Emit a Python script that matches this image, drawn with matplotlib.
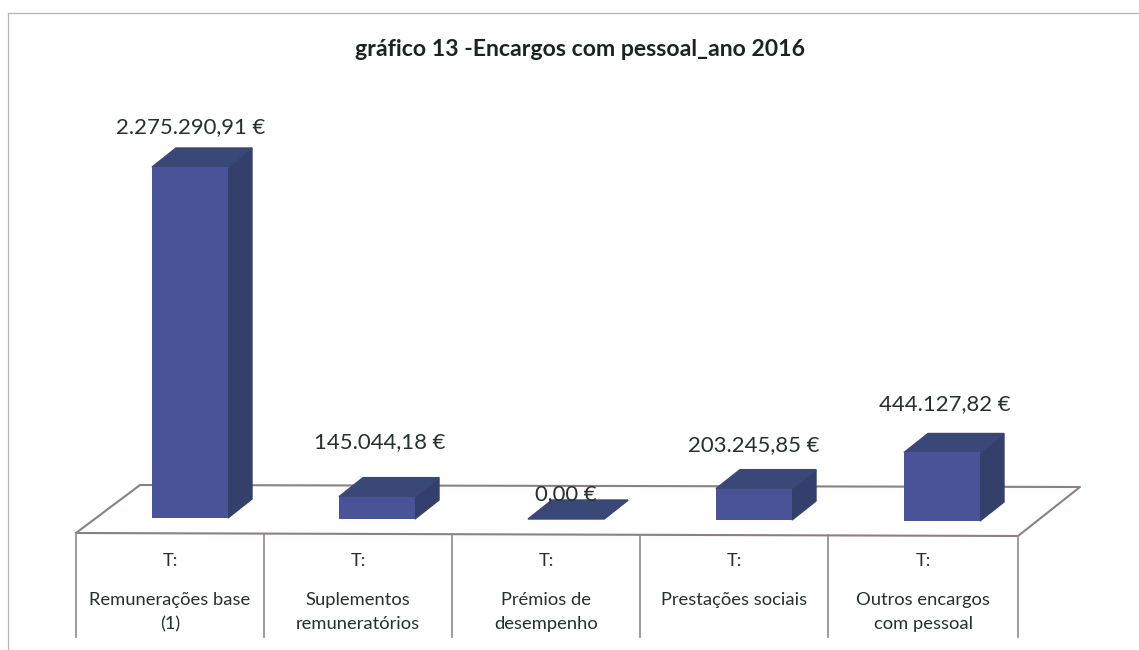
import matplotlib
matplotlib.use("Agg")
import matplotlib.pyplot as plt
from matplotlib.patches import Polygon

categories = ["Remunerações base\n(1)", "Suplementos\nremuneratórios", "Prémios de\ndesempenho",
              "Prestações sociais", "Outros encargos\ncom pessoal"]
values = [2275290.91, 145044.18, 0.00, 203245.85, 444127.82]
value_labels = ["2.275.290,91 €", "145.044,18 €", "0,00 €", "203.245,85 €", "444.127,82 €"]
title = "gráfico 13 -Encargos com pessoal_ano 2016"

# layout, in pixels of the 1139x650 picture
bar_left = [152, 339, 528, 716, 904]
bar_base = [518, 519, 519, 520, 521]
bar_w = 76
depth_x, depth_y = 24, 19
px_per_euro = 351 / 2275290.91
label_x = [191, 380, 566, 754, 945]
label_y = [127, 442, 494, 445, 404]
cell_x = [76, 264, 452, 640, 828, 1018]

front_c = "#4a5298"
top_c = "#3a4878"
side_c = "#343f6c"
floor_c = "#8c8082"
text_c = "#26302e"

plt.rcParams["font.family"] = ["Lato", "DejaVu Sans"]
fig = plt.figure(figsize=(11.39, 6.5), dpi=100)
ax = fig.add_axes([0, 0, 1, 1])
ax.set_xlim(0, 1139)
ax.set_ylim(650, 0)
ax.axis("off")

# outer frame of the chart
ax.plot([8, 8, 1139], [650, 13, 13], color="#b4b4b4", lw=0.9)

# floor and table
ax.plot([76, 140, 1080, 1018, 76], [533, 485, 487, 536, 533], color=floor_c, lw=1.5, zorder=1)
for i, x in enumerate(cell_x):
    ax.plot([x, x], [533 + i * 0.6, 637], color="#8a8a8a", lw=1.2, zorder=1)

for i, v in enumerate(values):
    h = v * px_per_euro
    l, b = bar_left[i], bar_base[i]
    r = l + bar_w
    t = b - h
    ax.add_patch(Polygon([(r, b), (r + depth_x, b - depth_y), (r + depth_x, t - depth_y), (r, t)],
                         color=side_c, zorder=2))
    ax.add_patch(Polygon([(l, t), (l + depth_x, t - depth_y), (r + depth_x, t - depth_y), (r, t)],
                         color=top_c, zorder=2))
    ax.bar(l, -h, width=bar_w, bottom=b, align="edge", color=front_c, zorder=3)
    ax.text(label_x[i], label_y[i], value_labels[i], ha="center", va="center",
            fontsize=15.9, color=text_c, zorder=4)
    cx = (cell_x[i] + cell_x[i + 1]) / 2
    ax.text(cx, 561, "T:", ha="center", va="center", fontsize=13.2, color=text_c)
    ax.text(cx, 612 if "\n" in categories[i] else 600, categories[i], ha="center", va="center",
            fontsize=13.2, color=text_c, linespacing=1.6)

ax.text(580, 50, title, ha="center", va="center", fontsize=16.6, fontweight="bold", color="#1c2422")

fig.savefig("out.png", dpi=100)
